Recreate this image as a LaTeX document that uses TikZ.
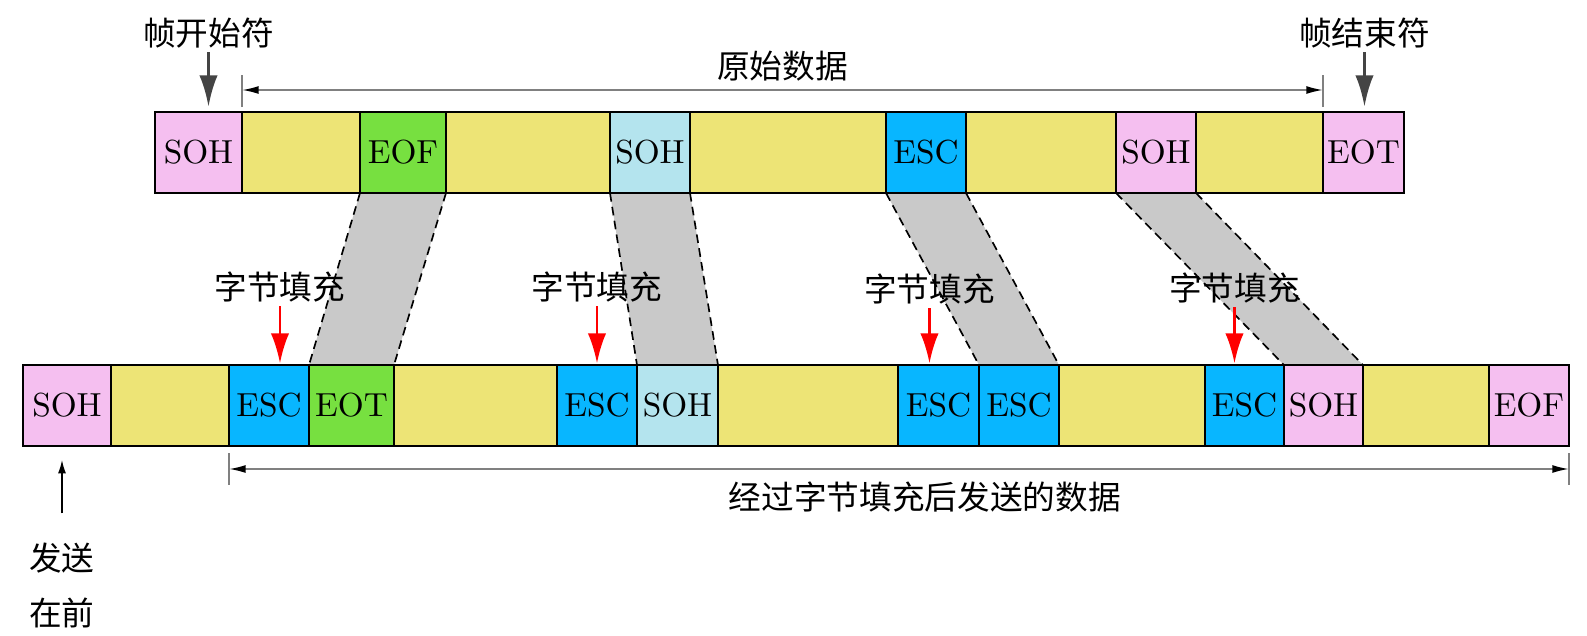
\documentclass[tikz,border=0pt]{standalone}
\usepackage{fontspec}
\newfontfamily\cjk{Noto Sans CJK SC}
\usepackage{xcolor}
\definecolor{sohpink}{HTML}{F5BFF0}
\definecolor{datayellow}{HTML}{EDE476}
\definecolor{eofgreen}{HTML}{77E040}
\definecolor{sohblue}{HTML}{B4E4EE}
\definecolor{escblue}{HTML}{08B6FF}
\definecolor{bandgray}{HTML}{C9C9C9}
\definecolor{arrowdark}{HTML}{444444}
\definecolor{rulegray}{HTML}{808080}
\usepackage{tikz}
\usetikzlibrary{arrows.meta,positioning,calc,backgrounds}

\begin{document}
\begin{tikzpicture}[x=0.3pt,y=-0.3pt,>=Latex]
\tikzset{
 cell/.style={draw=black,line width=0.6pt,outer sep=0pt,inner sep=0pt,minimum height=24.3pt,font=\fontsize{10}{12}\selectfont},
 soh/.style={cell,fill=sohpink},
 sohb/.style={cell,fill=sohblue},
 data/.style={cell,fill=datayellow},
 eof/.style={cell,fill=eofgreen},
 esc/.style={cell,fill=escblue},
 lbl/.style={font=\cjk\fontsize{9.8}{12}\selectfont,inner sep=1pt},
 band/.style={fill=bandgray},
 bandedge/.style={dash pattern=on 2.6pt off 1.6pt,line width=0.5pt},
 framearrow/.style={-{Latex[length=9.5pt,width=5.5pt]},draw=arrowdark,line width=1.1pt},
 fillarrow/.style={-{Latex[length=9pt,width=5.5pt]},draw=red,line width=0.8pt},
 sendarrow/.style={-{Latex[length=4pt,width=2.4pt]},line width=0.45pt},
 span/.style={draw=rulegray,line width=0.5pt,{Latex[length=5pt,width=2.4pt,color=black]}-{Latex[length=5pt,width=2.4pt,color=black]}},
 tick/.style={draw=rulegray,line width=0.5pt}
}
\useasboundingbox (0,0) rectangle (1587,636);

% original frame
\node[soh,minimum width=26.1pt,anchor=north west] (t1) at (155,112) {SOH};
\node[data,minimum width=35.4pt,right=0pt of t1] (t2) {};
\node[eof,minimum width=25.8pt,right=0pt of t2] (t3) {EOF};
\node[data,minimum width=49.2pt,right=0pt of t3] (t4) {};
\node[sohb,minimum width=24pt,right=0pt of t4] (t5) {SOH};
\node[data,minimum width=58.8pt,right=0pt of t5] (t6) {};
\node[esc,minimum width=24pt,right=0pt of t6] (t7) {ESC};
\node[data,minimum width=45pt,right=0pt of t7] (t8) {};
\node[soh,minimum width=24pt,right=0pt of t8] (t9) {SOH};
\node[data,minimum width=38.1pt,right=0pt of t9] (t10) {};
\node[soh,minimum width=24.3pt,right=0pt of t10] (t11) {EOT};

% stuffed frame
\node[soh,minimum width=26.4pt,anchor=north west] (b1) at (23,365) {SOH};
\node[data,minimum width=35.4pt,right=0pt of b1] (b2) {};
\node[esc,minimum width=24pt,right=0pt of b2] (b3) {ESC};
\node[eof,minimum width=25.5pt,right=0pt of b3] (b4) {EOT};
\node[data,minimum width=48.9pt,right=0pt of b4] (b5) {};
\node[esc,minimum width=24pt,right=0pt of b5] (b6) {ESC};
\node[sohb,minimum width=24.3pt,right=0pt of b6] (b7) {SOH};
\node[data,minimum width=54pt,right=0pt of b7] (b8) {};
\node[esc,minimum width=24.3pt,right=0pt of b8] (b9) {ESC};
\node[esc,minimum width=24pt,right=0pt of b9] (b10) {ESC};
\node[data,minimum width=43.8pt,right=0pt of b10] (b11) {};
\node[esc,minimum width=23.7pt,right=0pt of b11] (b12) {ESC};
\node[soh,minimum width=23.7pt,right=0pt of b12] (b13) {SOH};
\node[data,minimum width=37.8pt,right=0pt of b13] (b14) {};
\node[soh,minimum width=24pt,right=0pt of b14] (b15) {EOF};

% gray bands
\begin{scope}[on background layer]
\fill[band] (t3.south west) -- (t3.south east) -- (b4.north east) -- (b4.north west) -- cycle;
\fill[band] (t5.south west) -- (t5.south east) -- (b7.north east) -- (b7.north west) -- cycle;
\fill[band] (t7.south west) -- (t7.south east) -- (b10.north east) -- (b10.north west) -- cycle;
\fill[band] (t9.south west) -- (t9.south east) -- (b13.north east) -- (b13.north west) -- cycle;
\end{scope}
\draw[bandedge] (t3.south west) -- (b4.north west);
\draw[bandedge] (t3.south east) -- (b4.north east);
\draw[bandedge] (t5.south west) -- (b7.north west);
\draw[bandedge] (t5.south east) -- (b7.north east);
\draw[bandedge] (t7.south west) -- (b10.north west);
\draw[bandedge] (t7.south east) -- (b10.north east);
\draw[bandedge] (t9.south west) -- (b13.north west);
\draw[bandedge] (t9.south east) -- (b13.north east);

% stuffing marks
\node[lbl] (fill1) at ($(b3.north)+(11,-78)$) {字节填充};
\node[lbl] (fill2) at ($(b6.north)+(0,-78)$) {字节填充};
\node[lbl] (fill3) at ($(b9.north)+(-9,-76)$) {字节填充};
\node[lbl] (fill4) at ($(b12.north)+(-10,-77)$) {字节填充};
\draw[fillarrow,shorten >=0.5pt] (fill1) -- (fill1 |- b3.north);
\draw[fillarrow,shorten >=0.5pt] (fill2) -- (fill2 |- b6.north);
\draw[fillarrow,shorten >=0.5pt] (fill3) -- (fill3 |- b9.north);
\draw[fillarrow,shorten >=0.5pt] (fill4) -- (fill4 |- b12.north);

% frame delimiters
\node[lbl] (start) at ($(t1.north)+(10,-79)$) {帧开始符};
\node[lbl] (stop) at ($(t11.north)+(1,-79)$) {帧结束符};
\draw[framearrow,shorten >=1.5pt] (start) -- (start |- t1.north);
\draw[framearrow,shorten >=1.5pt] (stop) -- (stop |- t11.north);

% original data span
\coordinate (rawL) at ($(t1.north east)+(0,-22)$);
\coordinate (rawR) at ($(t11.north west)+(0,-22)$);
\draw[tick] ($(t1.north east)+(0,-5)$) -- ++(0,-32);
\draw[tick] ($(t11.north west)+(0,-5)$) -- ++(0,-32);
\draw[span] (rawL) -- (rawR);
\node[lbl] (raw) at ($(rawL)!0.5!(rawR)+(0,-24)$) {原始数据};

% sent data span
\coordinate (sentL) at ($(b3.south west)+(0,23)$);
\coordinate (sentR) at ($(b15.south east)+(0,23)$);
\draw[tick] ($(b3.south west)+(0,7)$) -- ++(0,32);
\draw[tick] ($(b15.south east)+(0,7)$) -- ++(0,32);
\draw[span] (sentL) -- (sentR);
\node[lbl] (sent) at ($(sentL)!0.5!(sentR)+(26,28)$) {经过字节填充后发送的数据};

% sent first
\node[lbl,align=center,font=\cjk\fontsize{9.8}{16.5}\selectfont] (first) at (62,585) {发送\\在前};
\draw[sendarrow,shorten <=7.5pt,shorten >=4.2pt] (first) -- (first |- b1.south);
\end{tikzpicture}
\end{document}
